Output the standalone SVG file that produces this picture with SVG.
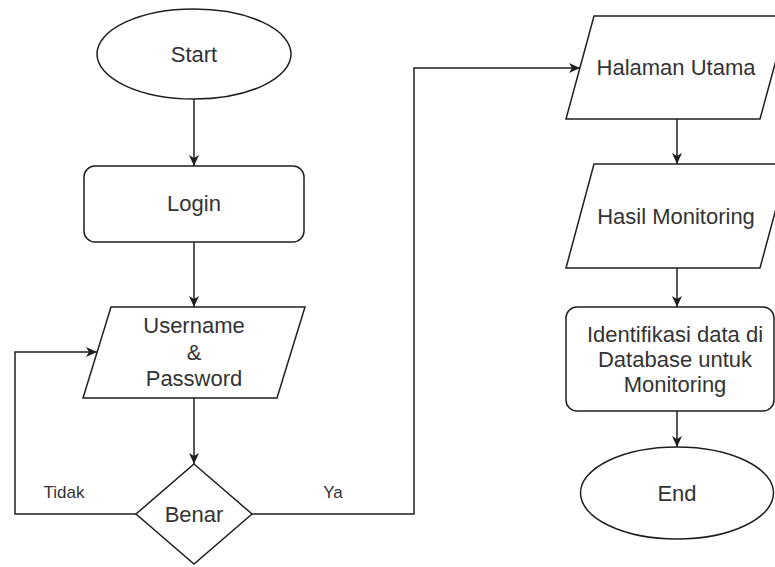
<svg xmlns="http://www.w3.org/2000/svg" width="775" height="567" viewBox="0 0 775 567">
  <style>
    .shape { fill: #ffffff; stroke: #1f1f1f; stroke-width: 1.5; }
    .edge { fill: none; stroke: #1f1f1f; stroke-width: 1.5; }
    .label { font-family: "Liberation Sans", Arial, sans-serif; font-size: 22px; fill: #333333; text-anchor: middle; }
    .small { font-family: "Liberation Sans", Arial, sans-serif; font-size: 17px; fill: #333333; text-anchor: middle; }
  </style>
  <defs>
    <marker id="arrow" viewBox="0 0 12 12" refX="11" refY="6" markerWidth="12" markerHeight="12" markerUnits="userSpaceOnUse" orient="auto">
      <path d="M0,1 L11,6 L0,11 L3,6 Z" fill="#1f1f1f"/>
    </marker>
  </defs>
  <rect width="775" height="567" fill="#ffffff"/>

  <!-- connectors -->
  <g id="connectors">
    <path class="edge" d="M194,99 L194,166" marker-end="url(#arrow)"/>
    <path class="edge" d="M194,242 L194,307" marker-end="url(#arrow)"/>
    <path class="edge" d="M194,398 L194,464" marker-end="url(#arrow)"/>
    <path class="edge" d="M136,514 L15,514 L15,352 L97,352" marker-end="url(#arrow)"/>
    <path class="edge" d="M252,514 L414,514 L414,68 L580,68" marker-end="url(#arrow)"/>
    <path class="edge" d="M677,119 L677,164" marker-end="url(#arrow)"/>
    <path class="edge" d="M677,268 L677,307" marker-end="url(#arrow)"/>
    <path class="edge" d="M677,411 L677,447" marker-end="url(#arrow)"/>
    <text class="small" x="64" y="498">Tidak</text>
    <text class="small" x="333" y="498">Ya</text>
  </g>

  <g id="start">
    <ellipse class="shape" cx="194" cy="54" rx="97" ry="45"/>
    <text class="label" x="194" y="62">Start</text>
  </g>

  <g id="login">
    <rect class="shape" x="84" y="166" width="220" height="76" rx="11" ry="11"/>
    <text class="label" x="194" y="211">Login</text>
  </g>

  <g id="username-password">
    <polygon class="shape" points="111,307 305,307 277,398 83,398"/>
    <text class="label" x="194" y="333">Username</text>
    <text class="label" x="194" y="360">&amp;</text>
    <text class="label" x="194" y="386">Password</text>
  </g>

  <g id="benar">
    <polygon class="shape" points="194,464 252,514 194,564 136,514"/>
    <text class="label" x="194" y="522">Benar</text>
  </g>

  <g id="halaman-utama">
    <polygon class="shape" points="594,16 788,16 760,119 566,119"/>
    <text class="label" x="676" y="75">Halaman Utama</text>
  </g>

  <g id="hasil-monitoring">
    <polygon class="shape" points="594,164 788,164 760,268 566,268"/>
    <text class="label" x="676" y="224">Hasil Monitoring</text>
  </g>

  <g id="identifikasi">
    <rect class="shape" x="566" y="307" width="208" height="104" rx="11" ry="11"/>
    <text class="label" x="675" y="342">Identifikasi data di</text>
    <text class="label" x="675" y="367">Database untuk</text>
    <text class="label" x="675" y="392">Monitoring</text>
  </g>

  <g id="end">
    <ellipse class="shape" cx="677" cy="493" rx="96.5" ry="46"/>
    <text class="label" x="677" y="501">End</text>
  </g>
</svg>
